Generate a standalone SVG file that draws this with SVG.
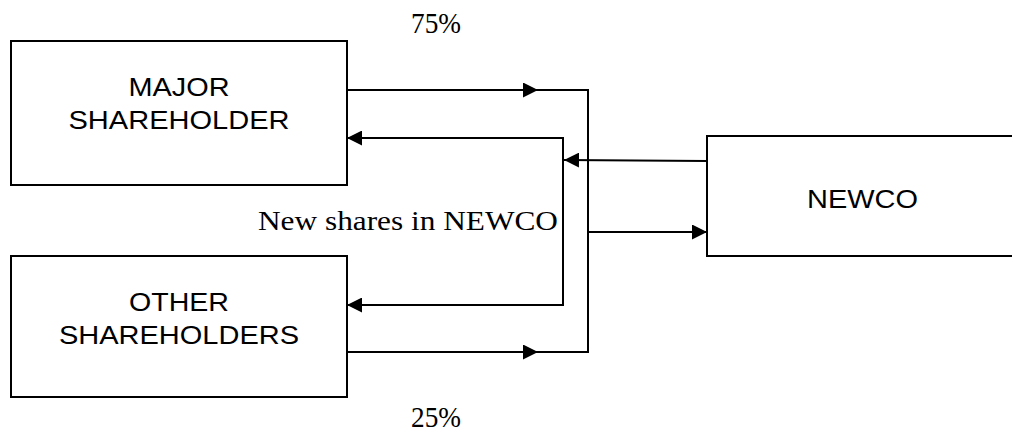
<svg xmlns="http://www.w3.org/2000/svg" width="1012" height="432" viewBox="0 0 1012 432">
<style>
.box{fill:#fff;stroke:#000;stroke-width:2}
.lbl{font-family:"Liberation Sans",Arial,sans-serif;font-size:26px;fill:#000;text-anchor:middle}
.ann{font-family:"Liberation Serif","Times New Roman",serif;font-size:27px;fill:#000}
.pct{font-size:29px}
.ln{fill:none;stroke:#000;stroke-width:2}
</style>
<defs>
<marker id="ah" markerUnits="userSpaceOnUse" markerWidth="15" markerHeight="15" refX="15" refY="7.5" orient="auto">
<path d="M0,0 L15,7.5 L0,15 Z" fill="#000"/>
</marker>
</defs>
<rect width="1012" height="432" fill="#fff"/>
<g id="major">
<rect class="box" x="11" y="41" width="336" height="144"/>
<text class="lbl" x="179" y="96" textLength="101" lengthAdjust="spacingAndGlyphs">MAJOR</text>
<text class="lbl" x="179" y="129" textLength="221" lengthAdjust="spacingAndGlyphs">SHAREHOLDER</text>
</g>
<g id="other">
<rect class="box" x="11" y="256" width="336" height="141"/>
<text class="lbl" x="179" y="311" textLength="100" lengthAdjust="spacingAndGlyphs">OTHER</text>
<text class="lbl" x="179" y="344" textLength="240" lengthAdjust="spacingAndGlyphs">SHAREHOLDERS</text>
</g>
<g id="newco">
<rect class="box" x="707" y="136" width="320" height="120"/>
<text class="lbl" x="862.5" y="208" textLength="111" lengthAdjust="spacingAndGlyphs">NEWCO</text>
</g>
<g id="connectors">
<path class="ln" d="M347,90 H538" marker-end="url(#ah)"/>
<path class="ln" d="M347,352 H538" marker-end="url(#ah)"/>
<path class="ln" d="M537,90 H588 V352 H537"/>
<path class="ln" d="M588,232 H707" marker-end="url(#ah)"/>
<path class="ln" d="M707,161 L564,160" marker-end="url(#ah)"/>
<path class="ln" d="M563,138 H347" marker-end="url(#ah)"/>
<path class="ln" d="M563,305 H347" marker-end="url(#ah)"/>
<path class="ln" d="M563,137 V306"/>
</g>
<g id="labels">
<text class="ann pct" x="411" y="33" textLength="50" lengthAdjust="spacingAndGlyphs">75%</text>
<text class="ann pct" x="411" y="427" textLength="50" lengthAdjust="spacingAndGlyphs">25%</text>
<text class="ann" x="258" y="230" textLength="300" lengthAdjust="spacingAndGlyphs">New shares in NEWCO</text>
</g>
</svg>
